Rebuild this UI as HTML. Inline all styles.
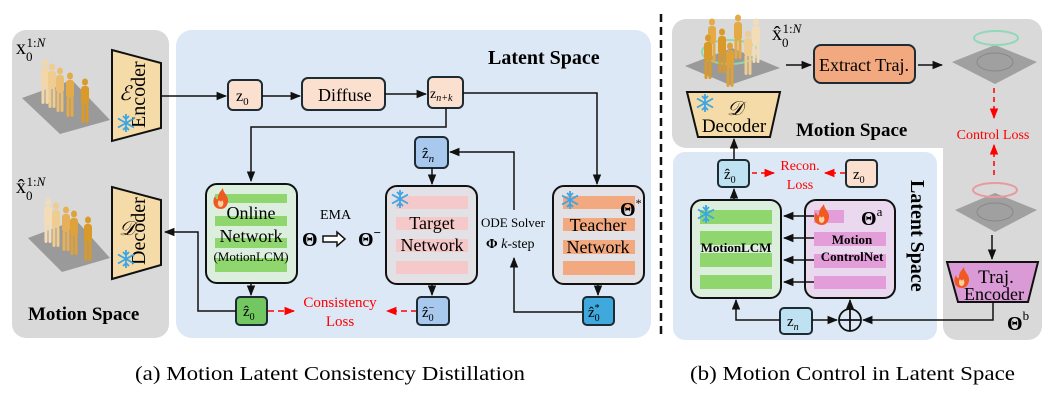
<!DOCTYPE html>
<html><head><meta charset="utf-8"><style>
html,body{margin:0;padding:0;background:#fff;}
svg{display:block;}
text{font-family:"Liberation Serif",serif;}
</style></head><body>
<svg width="1055" height="410" viewBox="0 0 1055 410" xmlns="http://www.w3.org/2000/svg">
<defs>
<marker id="a" viewBox="0 0 10 10" refX="9" refY="5" markerWidth="7" markerHeight="7" orient="auto"><path d="M0,1 L10,5 L0,9 z" fill="#111"/></marker>
<marker id="r" viewBox="0 0 10 10" refX="9" refY="5" markerWidth="7" markerHeight="7" orient="auto"><path d="M0,1 L10,5 L0,9 z" fill="#f00"/></marker>
<g id="fig"><ellipse cx="0" cy="-30" rx="3" ry="3.5"/><rect x="-4" y="-26" width="8" height="18" rx="3"/><rect x="-3.5" y="-9" width="3" height="20" rx="1.5"/><rect x="0.5" y="-9" width="3" height="20" rx="1.5"/></g>
<g id="snow" stroke="#3aa6e8" stroke-width="1.8" fill="none"><path d="M0,-9V9M-8,-4.5L8,4.5M-8,4.5L8,-4.5M-3,-7L0,-4L3,-7M-3,7L0,4L3,7"/></g>
<g id="fire"><path d="M0,10 C-8,10 -9,2 -6,-3 C-5,1 -3,1 -3,-1 C-3,-6 0,-8 2,-11 C2,-6 8,-3 7,3 C6,8 3,10 0,10z" fill="#f05a22"/><path d="M0,8 C-3,8 -4,4 -2,1 C-1,3 1,3 1,1 C3,3 3,7 0,8z" fill="#fbd0a0"/></g>
</defs>

<!-- left motion space -->
<rect x="12" y="30" width="157" height="308" rx="14" fill="#d9d9d9"/>
<rect x="176" y="30" width="475" height="308" rx="16" fill="#dce8f5"/>
<!-- figures top -->
<polygon points="22,98 72,80 110,120 60,134" fill="#9a9a9a"/>
<g fill="#e8b65a"><use href="#fig" x="45" y="93" fill="#f3d7a8"/><use href="#fig" x="52" y="97" fill="#efcc90"/><use href="#fig" x="60" y="101" fill="#ebbf73"/><use href="#fig" x="70" y="106" fill="#e3aa45"/><use href="#fig" x="85" y="112" fill="#d99a2a"/></g>
<polygon points="28,238 76,220 110,258 62,272" fill="#9a9a9a"/>
<g><use href="#fig" x="48" y="232" fill="#f3ddb8"/><use href="#fig" x="56" y="236" fill="#efcc90"/><use href="#fig" x="66" y="240" fill="#e6b05a"/><use href="#fig" x="74" y="244" fill="#dea23a"/><use href="#fig" x="88" y="250" fill="#d99a2a"/></g>
<text x="16" y="54" font-size="20">x<tspan font-size="13" dy="7">0</tspan><tspan font-size="13" dy="-14" dx="-6">1:</tspan><tspan font-size="13" font-style="italic">N</tspan></text>
<text x="16" y="193" font-size="20">x̂<tspan font-size="13" dy="7">0</tspan><tspan font-size="13" dy="-14" dx="-6">1:</tspan><tspan font-size="13" font-style="italic">N</tspan></text>
<polygon points="112,50 161,63 161,128 112,141" fill="#f5dba8" stroke="#111" stroke-width="2"/>
<text font-size="20" transform="translate(145,128) rotate(-90)">Encoder</text>
<text x="119" y="100" font-size="20" font-style="italic">ℰ</text>
<use href="#snow" x="126" y="123"/>
<polygon points="112,187 161,200 161,265 112,279" fill="#f5dba8" stroke="#111" stroke-width="2"/>
<text font-size="20" transform="translate(145,265) rotate(-90)">Decoder</text>
<text x="119" y="235" font-size="20" font-style="italic">𝒟</text>
<use href="#snow" x="126" y="259"/>
<text x="28" y="320" font-size="19" font-weight="bold">Motion Space</text>

<!-- latent space a -->
<text x="488" y="64" font-size="20" font-weight="bold">Latent Space</text>
<line x1="161" y1="96" x2="226" y2="96" stroke="#111" stroke-width="1.5" marker-end="url(#a)"/>
<rect x="228" y="80" width="34" height="30" rx="5" fill="#fbe0d0" stroke="#1d2b33" stroke-width="2"/>
<text x="236" y="101" font-size="16">z<tspan font-size="11" dy="4">0</tspan></text>
<line x1="262" y1="96" x2="300" y2="96" stroke="#111" stroke-width="1.5" marker-end="url(#a)"/>
<rect x="302" y="78" width="83" height="32" rx="6" fill="#fbe0d0" stroke="#1d2b33" stroke-width="2"/>
<text x="318" y="101" font-size="18">Diffuse</text>
<line x1="385" y1="94" x2="426" y2="94" stroke="#111" stroke-width="1.5" marker-end="url(#a)"/>
<rect x="428" y="77" width="35" height="31" rx="5" fill="#fbe0d0" stroke="#1d2b33" stroke-width="2"/>
<text x="430" y="98" font-size="14">z<tspan font-size="10" dy="3" font-style="italic">n+k</tspan></text>
<polyline points="446,108 446,127 251,127 251,181" fill="none" stroke="#111" stroke-width="1.5" marker-end="url(#a)"/>
<polyline points="463,93 597,93 597,184" fill="none" stroke="#111" stroke-width="1.5" marker-end="url(#a)"/>

<!-- online -->
<rect x="206" y="184" width="91" height="99" rx="11" fill="#dceedd" stroke="#111" stroke-width="2"/>
<g fill="#8fd66e"><rect x="215" y="194" width="72" height="9"/><rect x="215" y="216" width="72" height="10"/><rect x="215" y="238" width="72" height="10"/><rect x="215" y="258" width="72" height="14"/></g>
<use href="#fire" x="221" y="199"/>
<text x="251" y="219" font-size="18" text-anchor="middle">Online</text>
<text x="251" y="242" font-size="18" text-anchor="middle">Network</text>
<text x="251" y="261" font-size="13" text-anchor="middle">(MotionLCM)</text>
<line x1="251" y1="283" x2="251" y2="295" stroke="#111" stroke-width="1.5" marker-end="url(#a)"/>
<rect x="236" y="297" width="31" height="28" rx="4" fill="#72c760" stroke="#1d2b33" stroke-width="2"/>
<text x="243" y="316" font-size="15">ẑ<tspan font-size="10" dy="4">0</tspan></text>
<polyline points="236,311 198,311 198,232 165,232" fill="none" stroke="#111" stroke-width="1.5" marker-end="url(#a)"/>
<line x1="268" y1="311" x2="294" y2="311" stroke="#f00" stroke-width="1.5" stroke-dasharray="6,4" marker-end="url(#r)"/>
<text x="340" y="307" font-size="15" fill="#f00" text-anchor="middle">Consistency</text>
<text x="340" y="326" font-size="15" fill="#f00" text-anchor="middle">Loss</text>
<line x1="417" y1="311" x2="387" y2="311" stroke="#f00" stroke-width="1.5" stroke-dasharray="6,4" marker-end="url(#r)"/>

<text x="320" y="219" font-size="14">EMA</text>
<text x="302" y="246" font-size="20" font-weight="bold">Θ</text>
<path d="M323,236 h14 v-4 l8,7 l-8,7 v-4 h-14 z" fill="#fff" stroke="#111" stroke-width="1.5"/>
<text x="358" y="246" font-size="20" font-weight="bold">Θ<tspan font-size="13" dy="-9">−</tspan></text>

<!-- target -->
<rect x="386" y="186" width="91" height="98" rx="11" fill="#e2e2e6" stroke="#111" stroke-width="2"/>
<g fill="#f5c9c9"><rect x="396" y="196" width="72" height="13"/><rect x="396" y="217" width="72" height="13"/><rect x="396" y="239" width="72" height="13"/><rect x="396" y="261" width="72" height="13"/></g>
<use href="#snow" x="400" y="199"/>
<text x="432" y="229" font-size="18" text-anchor="middle">Target</text>
<text x="432" y="251" font-size="18" text-anchor="middle">Network</text>
<rect x="415" y="137" width="33" height="31" rx="5" fill="#a8c8ee" stroke="#1d2b33" stroke-width="2"/>
<text x="422" y="158" font-size="15">ẑ<tspan font-size="11" dy="4" font-style="italic">n</tspan></text>
<line x1="432" y1="168" x2="432" y2="184" stroke="#111" stroke-width="1.5" marker-end="url(#a)"/>
<line x1="432" y1="284" x2="432" y2="295" stroke="#111" stroke-width="1.5" marker-end="url(#a)"/>
<rect x="417" y="297" width="32" height="28" rx="4" fill="#a8c8ee" stroke="#1d2b33" stroke-width="2"/>
<text x="422" y="317" font-size="15">ẑ<tspan font-size="10" dy="4">0</tspan><tspan font-size="10" dy="-10" dx="-5">−</tspan></text>

<text x="481" y="227" font-size="13">ODE Solver</text>
<text x="486" y="248" font-size="14"><tspan font-weight="bold">Φ</tspan> <tspan font-style="italic">k</tspan>-step</text>
<polyline points="514,210 514,152 450,152" fill="none" stroke="#111" stroke-width="1.5" marker-end="url(#a)"/>
<polyline points="583,312 514,312 514,258" fill="none" stroke="#111" stroke-width="1.5" marker-end="url(#a)"/>

<!-- teacher -->
<rect x="553" y="186" width="91" height="98" rx="11" fill="#e2e2e6" stroke="#111" stroke-width="2"/>
<g fill="#f2a980"><rect x="563" y="196" width="72" height="13"/><rect x="563" y="218" width="72" height="13"/><rect x="563" y="240" width="72" height="14"/><rect x="563" y="261" width="72" height="14"/></g>
<use href="#snow" x="570" y="200"/>
<text x="620" y="216" font-size="20" font-weight="bold">Θ<tspan font-size="12" dy="-9" font-weight="normal">*</tspan></text>
<text x="598" y="231" font-size="18" text-anchor="middle">Teacher</text>
<text x="598" y="253" font-size="18" text-anchor="middle">Network</text>
<line x1="598" y1="284" x2="598" y2="295" stroke="#111" stroke-width="1.5" marker-end="url(#a)"/>
<rect x="583" y="297" width="31" height="28" rx="4" fill="#3fa8dc" stroke="#1d2b33" stroke-width="2"/>
<text x="588" y="317" font-size="15">ẑ<tspan font-size="10" dy="4">0</tspan><tspan font-size="10" dy="-10" dx="-5">*</tspan></text>

<!-- divider -->
<line x1="661" y1="14" x2="661" y2="338" stroke="#111" stroke-width="2.5" stroke-dasharray="8,5"/>

<!-- right panel -->
<path d="M686,19 H1028 a14,14 0 0 1 14,14 V326 a14,14 0 0 1 -14,14 H957 a14,14 0 0 1 -14,-14 V148 H686 a14,14 0 0 1 -14,-14 V33 a14,14 0 0 1 14,-14 z" fill="#d9d9d9"/>
<rect x="673" y="152" width="264" height="188" rx="12" fill="#dce8f5"/>
<polygon points="685,66 732,48 780,68 730,85" fill="#9a9a9a"/>
<ellipse cx="730" cy="52" rx="28" ry="12" fill="none" stroke="#8fd9a8" stroke-width="2"/>
<g><use href="#fig" x="712" y="52" fill="#e3aa45"/><use href="#fig" x="722" y="62" fill="#d99a2a"/><use href="#fig" x="738" y="48" fill="#e3aa45"/><use href="#fig" x="748" y="64" fill="#efcc90"/><use href="#fig" x="756" y="52" fill="#f3ddb8"/><use href="#fig" x="730" y="76" fill="#dea23a"/><use href="#fig" x="708" y="68" fill="#d99a2a"/></g>
<text x="772" y="40" font-size="20">x̂<tspan font-size="13" dy="7">0</tspan><tspan font-size="13" dy="-14" dx="-6">1:</tspan><tspan font-size="13" font-style="italic">N</tspan></text>
<polygon points="687,92 780,92 770,137 698,137" fill="#f5dba8" stroke="#111" stroke-width="2"/>
<use href="#snow" x="705" y="103"/>
<text x="727" y="115" font-size="20" font-style="italic">𝒟</text>
<text x="734" y="132" font-size="19" text-anchor="middle">Decoder</text>
<line x1="786" y1="65" x2="811" y2="65" stroke="#111" stroke-width="1.5" marker-end="url(#a)"/>
<rect x="814" y="45" width="101" height="38" rx="7" fill="#f2a980" stroke="#1d2b33" stroke-width="2"/>
<text x="864" y="71" font-size="18" text-anchor="middle">Extract Traj.</text>
<line x1="918" y1="65" x2="942" y2="65" stroke="#111" stroke-width="1.5" marker-end="url(#a)"/>
<polygon points="952,62 995,45 1037,62 995,84" fill="#a0a0a0"/>
<ellipse cx="996" cy="38" rx="22" ry="7" fill="none" stroke="#8fd9b8" stroke-width="2"/>
<ellipse cx="995" cy="62" rx="18" ry="9" fill="none" stroke="#888" stroke-width="1"/>
<text x="796" y="136" font-size="19" font-weight="bold">Motion Space</text>
<line x1="994" y1="88" x2="994" y2="118" stroke="#f00" stroke-width="1.5" stroke-dasharray="5,4" marker-end="url(#r)"/>
<text x="993" y="139" font-size="14" fill="#f00" text-anchor="middle">Control Loss</text>
<line x1="994" y1="175" x2="994" y2="145" stroke="#f00" stroke-width="1.5" stroke-dasharray="5,4" marker-end="url(#r)"/>
<polygon points="955,210 995,193 1037,210 995,232" fill="#a0a0a0"/>
<ellipse cx="995" cy="190" rx="22" ry="7" fill="none" stroke="#e89aa0" stroke-width="2"/>
<ellipse cx="995" cy="212" rx="18" ry="9" fill="none" stroke="#888" stroke-width="1"/>
<line x1="992" y1="235" x2="992" y2="259" stroke="#111" stroke-width="1.5" marker-end="url(#a)"/>
<polygon points="947,262 1038,262 1028,302 958,302" fill="#d99ad6" stroke="#111" stroke-width="2"/>
<use href="#fire" x="962" y="278"/>
<text x="996" y="283" font-size="19" text-anchor="middle">Traj.</text>
<text x="994" y="300" font-size="18" text-anchor="middle">Encoder</text>
<text x="1007" y="330" font-size="20" font-weight="bold">Θ<tspan font-size="13" dy="-10" font-weight="normal">b</tspan></text>

<!-- latent b -->
<text font-size="20" font-weight="bold" transform="translate(911,180) rotate(90)">Latent Space</text>
<line x1="734" y1="160" x2="734" y2="139" stroke="#111" stroke-width="1.5" marker-end="url(#a)"/>
<rect x="718" y="160" width="31" height="27" rx="4" fill="#bfe2f2" stroke="#1d2b33" stroke-width="2"/>
<text x="724" y="179" font-size="15">ẑ<tspan font-size="10" dy="4">0</tspan></text>
<line x1="752" y1="173" x2="774" y2="173" stroke="#f00" stroke-width="1.5" stroke-dasharray="5,4" marker-end="url(#r)"/>
<text x="800" y="170" font-size="14" fill="#f00" text-anchor="middle">Recon.</text>
<text x="800" y="189" font-size="14" fill="#f00" text-anchor="middle">Loss</text>
<line x1="845" y1="173" x2="825" y2="173" stroke="#f00" stroke-width="1.5" stroke-dasharray="5,4" marker-end="url(#r)"/>
<rect x="846" y="160" width="31" height="27" rx="4" fill="#fbe0d0" stroke="#1d2b33" stroke-width="2"/>
<text x="853" y="179" font-size="15">z<tspan font-size="10" dy="4">0</tspan></text>
<line x1="734" y1="200" x2="734" y2="189" stroke="#111" stroke-width="1.5" marker-end="url(#a)"/>

<rect x="691" y="200" width="90" height="98" rx="11" fill="#dceedd" stroke="#111" stroke-width="2"/>
<g fill="#8fd66e"><rect x="700" y="210" width="72" height="14"/><rect x="700" y="231" width="72" height="14"/><rect x="700" y="253" width="72" height="14"/><rect x="700" y="275" width="72" height="14"/></g>
<use href="#snow" x="706" y="214"/>
<text x="736" y="252" font-size="13" font-weight="bold" text-anchor="middle">MotionLCM</text>
<rect x="805" y="200" width="90" height="98" rx="11" fill="#ead8ee" stroke="#111" stroke-width="2"/>
<g fill="#e39ed9"><rect x="814" y="210" width="30" height="13"/><rect x="814" y="232" width="72" height="14"/><rect x="814" y="254" width="72" height="14"/><rect x="814" y="276" width="72" height="13"/></g>
<use href="#fire" x="822" y="215"/>
<text x="861" y="225" font-size="20" font-weight="bold">Θ<tspan font-size="13" dy="-9" font-weight="normal">a</tspan></text>
<text x="852" y="244" font-size="13" font-weight="bold" text-anchor="middle">Motion</text>
<text x="852" y="261" font-size="13" font-weight="bold" text-anchor="middle">ControlNet</text>
<g stroke="#111" stroke-width="1.5"><line x1="814" y1="216" x2="784" y2="216" marker-end="url(#a)"/><line x1="814" y1="238" x2="784" y2="238" marker-end="url(#a)"/><line x1="814" y1="260" x2="784" y2="260" marker-end="url(#a)"/><line x1="814" y1="282" x2="784" y2="282" marker-end="url(#a)"/></g>
<rect x="780" y="308" width="32" height="26" rx="4" fill="#bfe2f2" stroke="#1d2b33" stroke-width="2"/>
<text x="787" y="326" font-size="15">z<tspan font-size="10" dy="4" font-style="italic">n</tspan></text>
<polyline points="780,320 736,320 736,300" fill="none" stroke="#111" stroke-width="1.5" marker-end="url(#a)"/>
<line x1="812" y1="320" x2="837" y2="320" stroke="#111" stroke-width="1.5" marker-end="url(#a)"/>
<circle cx="850" cy="320" r="11" fill="none" stroke="#111" stroke-width="1.8"/>
<path d="M839,320 H861 M850,309 V331" stroke="#111" stroke-width="1.8"/>
<line x1="850" y1="309" x2="850" y2="300" stroke="#111" stroke-width="1.5" marker-end="url(#a)"/>
<polyline points="993,302 993,320 863,320" fill="none" stroke="#111" stroke-width="1.5" marker-end="url(#a)"/>

<!-- captions -->
<text x="135" y="380" font-size="20" textLength="390" lengthAdjust="spacingAndGlyphs">(a) Motion Latent Consistency Distillation</text>
<text x="690" y="380" font-size="20" textLength="325" lengthAdjust="spacingAndGlyphs">(b) Motion Control in Latent Space</text>
</svg>
</body></html>
